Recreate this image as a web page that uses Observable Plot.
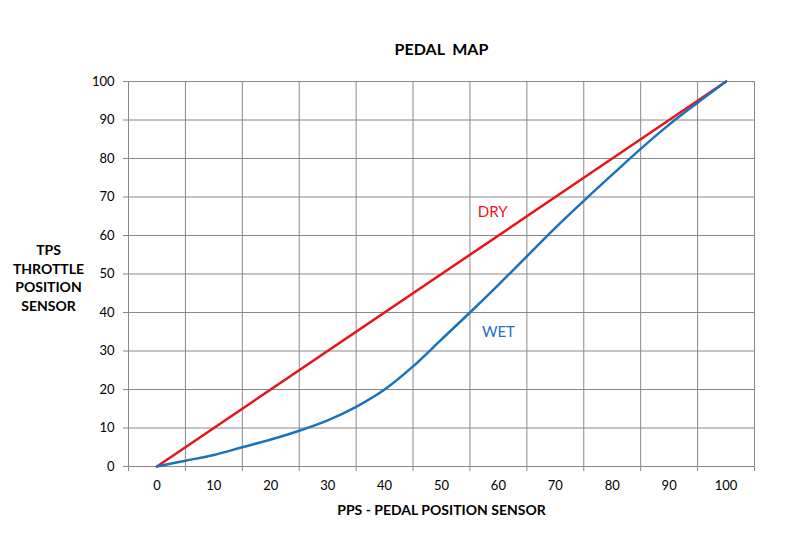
<!DOCTYPE html>
<html>
<head>
<meta charset="utf-8">
<script src="https://cdn.jsdelivr.net/npm/d3@7"></script>
<script src="https://cdn.jsdelivr.net/npm/@observablehq/plot@0.6"></script>
<style>
  html, body { margin: 0; padding: 0; background: #fff; }
  #chart { width: 788px; height: 533px; }
</style>
</head>
<body>
<div id="chart"></div>
<script>
const pps = [0, 5, 10, 15, 20, 25, 30, 35, 40, 45, 50, 55, 60, 65, 70, 75, 80, 85, 90, 95, 100];
const wet = [0, 1.5, 3, 5, 7, 9.3, 12, 15.5, 20, 26, 33, 40, 47.2, 54.6, 62, 69, 75.8, 82.5, 88.8, 94.5, 100];
const dryX = [0, 100];
const dryY = [0, 100];
const xTickLabels = [0, 10, 20, 30, 40, 50, 60, 70, 80, 90, 100];
const xGrid = [-5, 5, 15, 25, 35, 45, 55, 65, 75, 85, 95, 105];
const yTicks = [0, 10, 20, 30, 40, 50, 60, 70, 80, 90, 100];
const title = "PEDAL  MAP";
const xLabel = "PPS - PEDAL POSITION SENSOR";
const yLabel = "TPS\nTHROTTLE\nPOSITION\nSENSOR";
const seriesLabels = [{name: "DRY", x: 59, y: 66, color: "#e8141c"}, {name: "WET", x: 60, y: 35, color: "#1a72bb"}];

const wetData = pps.map((p, i) => ({x: p, y: wet[i]}));
const dryData = dryX.map((p, i) => ({x: p, y: dryY[i]}));

const font = "Lato, 'Open Sans', sans-serif";

const chart = Plot.plot({
  width: 788,
  height: 533,
  marginLeft: 128,
  marginRight: 34,
  marginTop: 81,
  marginBottom: 67,
  style: {fontFamily: font, fontSize: "13px", color: "#000", background: "#fff"},
  x: {domain: [-5, 105]},
  y: {domain: [0, 100]},
  marks: [
    Plot.ruleX(xGrid, {stroke: "#888", strokeWidth: 1, strokeOpacity: 1}),
    Plot.ruleY(yTicks, {stroke: "#888", strokeWidth: 1, strokeOpacity: 1}),
    Plot.axisX(xGrid, {tickSize: 5, tickFormat: () => "", label: null, stroke: "#888", strokeOpacity: 1}),
    Plot.axisX(xTickLabels, {tickSize: 0, tickPadding: 14, label: null, fontSize: 13, fill: "#000"}),
    Plot.axisY(yTicks, {tickSize: 5, tickPadding: 9, label: null, fontSize: 13, fill: "#000", stroke: "#888", strokeOpacity: 1}),
    Plot.line(dryData, {x: "x", y: "y", stroke: "#e8141c", strokeWidth: 2.5}),
    Plot.line(wetData, {x: "x", y: "y", stroke: "#1a72bb", strokeWidth: 2.5, curve: "catmull-rom"}),
    Plot.text(seriesLabels, {x: "x", y: "y", text: "name", fill: "color", fontSize: 15, fontFamily: font}),
    Plot.text([title], {frameAnchor: "top", dy: -38, fontSize: 16, fontWeight: "bold", fill: "#000", fontFamily: font}),
    Plot.text([xLabel], {frameAnchor: "bottom", dy: 48, fontSize: 14, fontWeight: "bold", fill: "#000", fontFamily: font}),
    Plot.text([yLabel], {frameAnchor: "left", dx: -80, dy: 3, textAnchor: "middle", lineAnchor: "middle", lineHeight: 1.35, fontSize: 14, fontWeight: "bold", fill: "#000", fontFamily: font})
  ]
});
document.getElementById("chart").appendChild(chart);
</script>
</body>
</html>
